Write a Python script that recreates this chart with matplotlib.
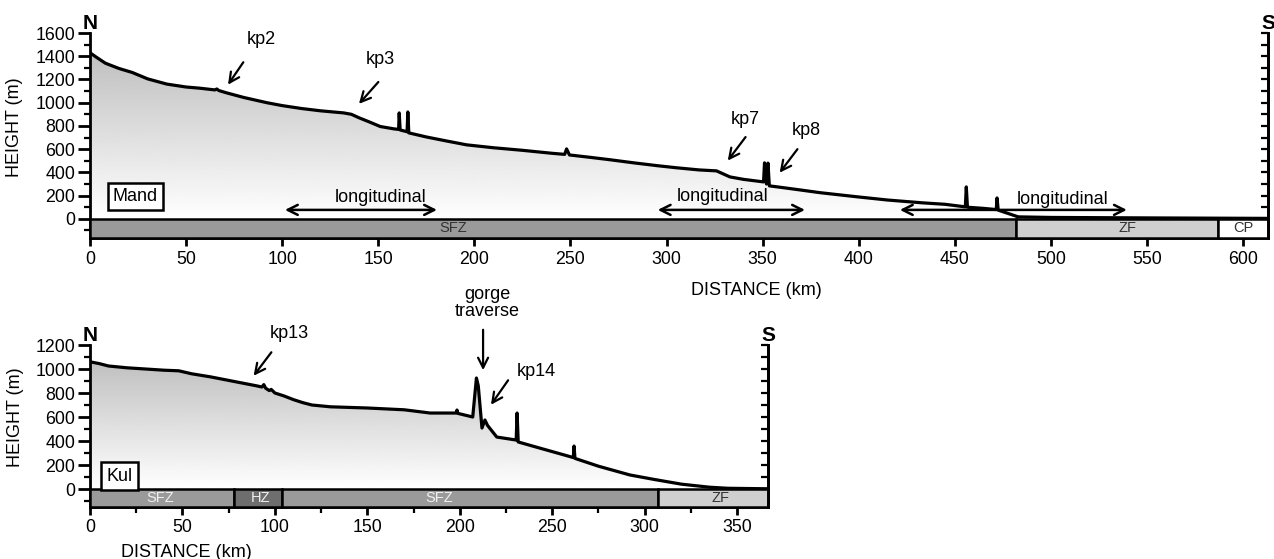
import numpy as np
import matplotlib
matplotlib.use('Agg')
import matplotlib.pyplot as plt
from matplotlib.patches import Polygon
from matplotlib.ticker import MultipleLocator

plt.rcParams['font.family'] = ['Liberation Sans', 'DejaVu Sans']

# Mand river long profile (distance km, height m)
mand_km = [0, 3, 8, 15, 22, 30, 40, 50, 57, 65, 66, 67, 71, 80, 92, 100, 110, 120, 132, 136,
           140, 146, 151, 158, 160.6, 160.9, 161.4, 165, 165.4, 165.9, 175, 185, 196, 210, 225,
           240, 247, 248, 249.5, 260, 270, 283, 295, 305, 317, 326, 333, 340, 350.5, 351, 352,
           352.8, 353.5, 360, 369, 380, 399, 415, 433, 445, 455.5, 456, 456.6, 465, 471.6, 472,
           472.6, 478, 483, 500, 550, 612]
mand_h = [1430, 1395, 1340, 1295, 1260, 1205, 1160, 1135, 1125, 1110, 1118, 1105, 1085, 1045,
          1000, 975, 950, 930, 912, 900, 870, 830, 795, 775, 770, 912, 765, 750, 920, 740, 705,
          672, 637, 612, 590, 565, 555, 602, 550, 530, 510, 482, 458, 440, 421, 413, 361, 340,
          318, 482, 300, 480, 284, 270, 250, 225, 190, 162, 138, 125, 103, 275, 100, 90, 80,
          180, 75, 45, 17, 12, 8, 4]

# Kul river long profile
kul_km = [0, 5, 10, 20, 30, 40, 48, 55, 65, 75, 85, 90, 93, 94, 95, 97, 98, 100, 105, 110, 115,
          120, 130, 150, 170, 184, 198, 198.5, 199, 207, 209, 210, 212, 213.6, 215, 220, 230.5,
          231, 231.6, 243, 255, 261.4, 261.8, 262.3, 275, 292, 305, 320, 335, 345, 366]
kul_h = [1060, 1045, 1025, 1010, 1000, 990, 985, 960, 935, 905, 875, 860, 850, 870, 840, 820,
         830, 800, 775, 745, 720, 700, 685, 675, 660, 633, 633, 658, 630, 600, 925, 860, 508,
         575, 530, 433, 408, 633, 392, 342, 290, 262, 358, 255, 190, 117, 80, 40, 15, 6, 2]

# tectonic zones along each profile (start km, end km)
mand_zones = [('SFZ', 0, 482), ('ZF', 482, 587), ('CP', 587, 613)]
kul_zones = [('SFZ', 0, 78), ('HZ', 78, 104), ('SFZ', 104, 307), ('ZF', 307, 366.7)]
zone_fc = {'SFZ': '#9a9a9a', 'HZ': '#6e6e6e', 'ZF': '#cfcfcf', 'CP': 'white'}

fig = plt.figure(figsize=(12.74, 5.59), dpi=100)
ax1 = fig.add_axes([90/1274, 1-238/559, 1178/1274, 205/559])
ax2 = fig.add_axes([90/1274, 1-507/559, 678/1274, 162/559])


def draw_profile(ax, km, h, xmax, ytop, ybot, zones, zone_tc, label_pos):
    ax.set_xlim(0, xmax)
    ax.set_ylim(ybot, ytop)
    grad = np.linspace(1.0, 0.72, 256).reshape(-1, 1)
    im = ax.imshow(grad, extent=[0, xmax, 0, ytop], origin='lower', cmap='gray',
                   vmin=0, vmax=1, aspect='auto', zorder=1)
    poly = Polygon(np.column_stack([[km[0]] + km + [km[-1]], [0] + h + [0]]),
                   closed=True, fc='none', ec='none')
    ax.add_patch(poly)
    im.set_clip_path(poly)
    ax.plot(km, h, color='black', lw=2.3, zorder=3)
    for (name, a, b), lx, tc in zip(zones, label_pos, zone_tc):
        ax.bar(a, 0 - ybot, width=b - a, bottom=ybot, align='edge',
               color=zone_fc[name], edgecolor='black', lw=1.8, zorder=4, clip_on=False)
        ax.text(lx, ybot / 2, name, ha='center', va='center', fontsize=10.5, color=tc, zorder=5)
    ax.spines['top'].set_visible(False)
    for s in ['left', 'bottom', 'right']:
        ax.spines[s].set_linewidth(2)
    ax.set_yticks(range(0, ytop + 1, 200))
    ax.yaxis.set_minor_locator(MultipleLocator(100))
    ax.set_xticks(range(0, int(xmax) + 1, 50))
    ax.tick_params(axis='y', which='major', length=8.5, width=2, labelsize=12.8, pad=2)
    ax.tick_params(axis='y', which='minor', length=4, width=1.6)
    ax.tick_params(axis='x', which='major', length=6, width=2, labelsize=12.8, pad=3)
    r = ax.twinx()
    r.set_ylim(ybot, ytop)
    r.set_yticks(range(0, ytop + 1, 100))
    r.tick_params(axis='y', direction='in', length=5, width=1.6, labelright=False)
    for s in ['top', 'left', 'bottom']:
        r.spines[s].set_visible(False)
    r.spines['right'].set_linewidth(2)
    ax.set_ylabel('HEIGHT (m)', fontsize=13)
    ax.set_xlabel('DISTANCE (km)', fontsize=13)
    ax.text(0, 1.0, 'N', transform=ax.transAxes, ha='center', va='bottom',
            fontsize=15, fontweight='bold')
    ax.text(1.0, 1.0, 'S', transform=ax.transAxes, ha='center', va='bottom',
            fontsize=15, fontweight='bold')


draw_profile(ax1, mand_km, mand_h, 613, 1600, -165, mand_zones,
             ['#333333', '#333333', '#333333'], [189, 540, 600])
draw_profile(ax2, kul_km, kul_h, 366.7, 1200, -150, kul_zones,
             ['#f0f0f0', '#f0f0f0', '#f0f0f0', '#333333'], [38, 92, 189, 341])
ax2.xaxis.set_minor_locator(MultipleLocator(25))
ax2.tick_params(axis='x', which='minor', length=4, width=1.6)

ax1.xaxis.set_label_coords(0.566, -0.215)
ax1.yaxis.set_label_coords(-0.057, 0.54)
ax2.xaxis.set_label_coords(0.142, -0.23)
ax2.yaxis.set_label_coords(-0.098, 0.556)

arrow = dict(arrowstyle='->', lw=1.6, color='black', mutation_scale=18)
kw = dict(fontsize=13, ha='center', va='center')
# knickpoints on Mand: (label, text x, text y, arrow start, arrow tip)
mand_kp = [('kp2', 89, 1540, (80.6, 1368), (71, 1135)),
           ('kp3', 151, 1368, (151, 1196), (139, 972)),
           ('kp7', 341, 852, (342, 723), (331, 482)),
           ('kp8', 373, 757, (369, 619), (358, 378))]
for lab, tx, ty, s, t in mand_kp:
    ax1.text(tx, ty, lab, **kw)
    ax1.annotate('', xy=t, xytext=s, arrowprops=arrow)

dbl = dict(arrowstyle='<->', lw=1.8, color='black', mutation_scale=18)
for a, b, y, tx, ty in [(100, 182, 77, 151, 188), (294, 373.5, 77, 329, 190),
                        (420, 541, 77, 506, 163)]:
    ax1.annotate('', xy=(b, y), xytext=(a, y), arrowprops=dbl, zorder=6)
    ax1.text(tx, ty, 'longitudinal', zorder=6, **kw)

ax1.text(23.5, 190, 'Mand', zorder=6, **kw,
         bbox=dict(boxstyle='square,pad=0.28', fc='white', ec='black', lw=1.8))

# knickpoints on Kul
kul_kp = [('kp13', 108, 1300, (99, 1158), (87.6, 925)),
          ('gorge\ntraverse', 214.7, 1550, (212.6, 1350), (212.6, 967)),
          ('kp14', 241.6, 983, (227, 925), (216, 683))]
for lab, tx, ty, s, t in kul_kp:
    ax2.text(tx, ty, lab, linespacing=1.0, clip_on=False, **kw)
    ax2.annotate('', xy=t, xytext=s, arrowprops=arrow, annotation_clip=False)

ax2.text(16, 108, 'Kul', zorder=6, **kw,
         bbox=dict(boxstyle='square,pad=0.28', fc='white', ec='black', lw=1.8))

fig.savefig('out.png', dpi=100)
